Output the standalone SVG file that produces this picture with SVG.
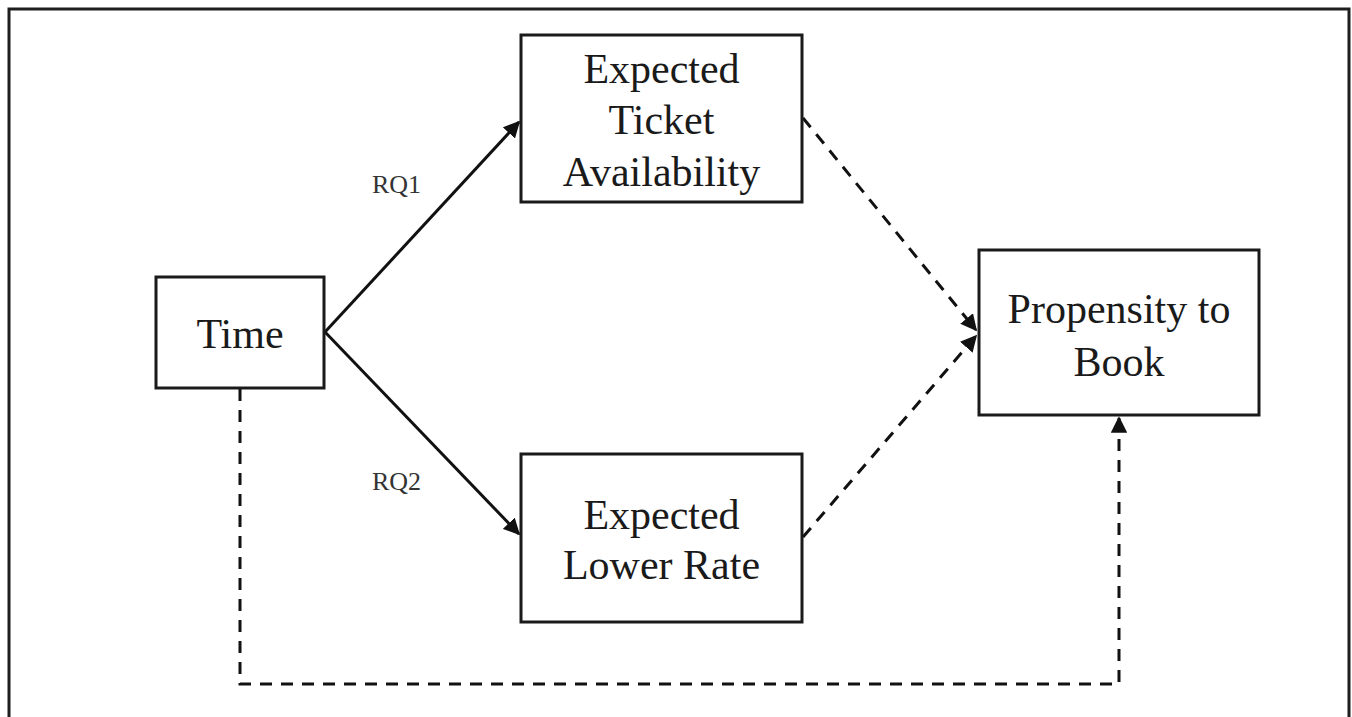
<svg xmlns="http://www.w3.org/2000/svg" width="1352" height="717" viewBox="0 0 1352 717">
  <style>
    .box { fill: #fff; stroke: #1a1a1a; stroke-width: 3; }
    .t { font-family: "Liberation Serif", "Times New Roman", serif; font-size: 42px; fill: #1a1a1a; text-anchor: middle; }
    .lbl { font-family: "Liberation Serif", "Times New Roman", serif; font-size: 26px; fill: #333; }
    .solid { stroke: #111; stroke-width: 3; fill: none; }
    .dash { stroke: #111; stroke-width: 3; fill: none; stroke-dasharray: 12 9; }
  </style>
  <defs>
    <marker id="ah" viewBox="0 0 10 10" refX="9" refY="5" markerWidth="5.5" markerHeight="5.5" markerUnits="strokeWidth" orient="auto">
      <path d="M0,0 L10,5 L0,10 z" fill="#111"/>
    </marker>
  </defs>
  <rect width="1352" height="717" fill="#fff"/>
  <path d="M9,717 V9 H1349 V717" fill="none" stroke="#1e1e1e" stroke-width="3"/>

  <g id="connectors">
    <line class="solid" x1="325" y1="332" x2="519" y2="122" marker-end="url(#ah)"/>
    <line class="solid" x1="325" y1="332" x2="519" y2="534" marker-end="url(#ah)"/>
    <line class="dash" x1="803" y1="118" x2="976" y2="330" marker-end="url(#ah)"/>
    <line class="dash" x1="803" y1="537" x2="976" y2="336" marker-end="url(#ah)"/>
    <path class="dash" d="M240,389 V684 H1119 V418" marker-end="url(#ah)"/>
  </g>

  <text class="lbl" x="372" y="193">RQ1</text>
  <text class="lbl" x="372" y="490">RQ2</text>

  <g id="node-time">
    <rect class="box" x="156" y="277" width="168" height="111"/>
    <text class="t" x="240" y="348">Time</text>
  </g>
  <g id="node-availability">
    <rect class="box" x="521" y="35" width="281" height="167"/>
    <text class="t" x="661.5" y="83">Expected</text>
    <text class="t" x="661.5" y="134">Ticket</text>
    <text class="t" x="661.5" y="186">Availability</text>
  </g>
  <g id="node-lowerrate">
    <rect class="box" x="521" y="454" width="281" height="168"/>
    <text class="t" x="661.5" y="529">Expected</text>
    <text class="t" x="661.5" y="579">Lower Rate</text>
  </g>
  <g id="node-propensity">
    <rect class="box" x="979" y="250" width="280" height="165"/>
    <text class="t" x="1119" y="323">Propensity to</text>
    <text class="t" x="1119" y="376">Book</text>
  </g>
</svg>
